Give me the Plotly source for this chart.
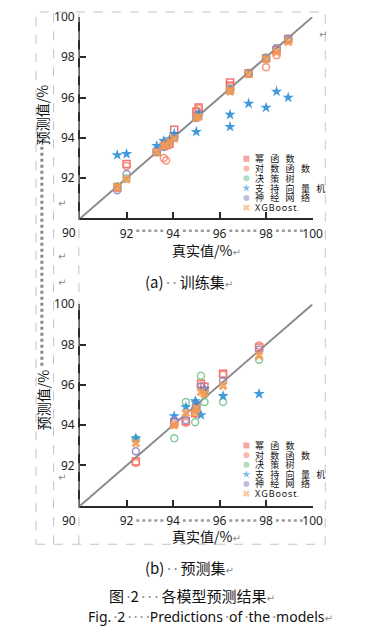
import plotly.graph_objects as go

W, H = 382, 630

# ---------------- data ----------------
MODELS = ["幂函数", "对数函数", "决策树", "支持向量机", "神经网络", "XGBoost"]
COLORS = ["#f0595c", "#f5836a", "#6fc48b", "#1f88d6", "#8e86c8", "#f59a4e"]
SYMBOLS = ["square-open", "circle-open", "circle-open", "star", "circle-open", "x"]
SIZES = [7, 7, 7, 8.5, 7, 8]

AXIS_RANGE = [90, 100]
TICKS = [90, 92, 94, 96, 98, 100]

# training set
TRAIN_TRUE = [91.6, 92.0, 93.3, 93.6, 93.7, 93.85, 94.05, 95.0, 95.1, 96.45, 96.45, 97.25, 98.0, 98.45, 98.95]
TRAIN_POWER = [91.55, 92.7, 93.3, 93.6, 93.65, 93.72, 94.4, 95.3, 95.5, 96.75, 96.6, 97.2, 97.95, 98.35, 98.9]
TRAIN_LOG = [91.5, 92.6, 93.35, 93.0, 92.88, 93.65, 94.05, 95.35, 95.45, 96.55, 96.4, 97.2, 97.5, 98.1, 98.85]
TRAIN_TREE = [91.6, 91.98, 93.3, 93.62, 93.7, 93.85, 94.05, 95.0, 95.1, 96.45, 96.42, 97.22, 97.98, 98.45, 98.92]
TRAIN_SVM = [93.15, 93.2, 93.6, 93.85, 93.75, 93.92, 94.2, 94.3, 95.2, 95.15, 94.55, 95.7, 95.5, 96.3, 96.0]
TRAIN_NN = [91.4, 92.2, 93.3, 93.55, 93.7, 93.85, 94.0, 95.0, 95.2, 96.4, 96.35, 97.2, 97.95, 98.45, 98.9]
TRAIN_XGB = [91.55, 91.95, 93.3, 93.6, 93.65, 93.8, 93.97, 95.0, 95.05, 96.35, 96.3, 97.15, 97.9, 98.25, 98.75]

# test set
TEST_TRUE = [92.4, 94.05, 94.55, 94.95, 95.0, 95.2, 95.35, 96.15, 97.7]
TEST_POWER = [92.2, 94.15, 94.2, 94.6, 94.85, 96.05, 95.9, 96.55, 97.85]
TEST_LOG = [92.12, 94.05, 94.12, 94.55, 94.9, 95.95, 95.75, 96.5, 97.95]
TEST_TREE = [93.3, 93.35, 95.15, 94.15, 94.9, 96.45, 95.15, 95.15, 97.25]
TEST_SVM = [93.35, 94.45, 94.9, 95.2, 95.1, 94.5, 95.8, 95.45, 95.55]
TEST_NN = [92.7, 94.25, 94.25, 94.8, 95.0, 95.9, 95.7, 96.2, 97.75]
TEST_XGB = [93.1, 94.0, 94.6, 94.6, 94.85, 95.65, 95.55, 95.95, 97.45]

TRAIN_PRED = [TRAIN_POWER, TRAIN_LOG, TRAIN_TREE, TRAIN_SVM, TRAIN_NN, TRAIN_XGB]
TEST_PRED = [TEST_POWER, TEST_LOG, TEST_TREE, TEST_SVM, TEST_NN, TEST_XGB]

X_TITLE = "真实值/%"
Y_TITLE = "预测值/%"
CAP_A = ("(a)", "训练集")
CAP_B = ("(b)", "预测集")
FIG_CN = ("图", "2", "各模型预测结果")
FIG_EN = ("Fig.", "2", "Predictions", "of", "the", "models")

# ---------------- helpers ----------------
def px(x):
    return x / W

def py(y):
    return 1 - y / H

CJK = "Noto Sans CJK SC"
LAT = "Noto Sans"
GRAY = "#8a8a8a"
DOT = f'<span style="color:{GRAY};font-family:Noto Sans">\u2009·</span>'
RET = f'<span style="color:{GRAY};font-size:10px;font-family:DejaVu Sans">↵</span>'

fig = go.Figure()

panels = [
    dict(xa="x", ya="y", xd=[82.2, 321.0], yd=[8.0, 212.5], true=TRAIN_TRUE, pred=TRAIN_PRED,
         lx="x3", ly="y3", ld=[147.0, 206.5]),
    dict(xa="x2", ya="y2", xd=[82.2, 321.0], yd=[299.5, 504.0], true=TEST_TRUE, pred=TEST_PRED,
         lx="x4", ly="y4", ld=[438.0, 496.5]),
]

axis_style = dict(
    range=AXIS_RANGE, showgrid=False, zeroline=False, showline=True,
    linecolor="#2a2a2a", linewidth=2, ticks="inside", ticklen=6, tickwidth=1.5,
    tickcolor="#2a2a2a", tickfont=dict(family=LAT, size=12, color="#1e1e1e"),
    fixedrange=True,
)

layout = {}
annotations = []
shapes = []

for i, p in enumerate(panels):
    # diagonal reference line from axis range
    fig.add_trace(go.Scatter(x=AXIS_RANGE, y=AXIS_RANGE, mode="lines",
                             line=dict(color="#8c8c8c", width=2),
                             xaxis=p["xa"], yaxis=p["ya"], showlegend=False, hoverinfo="skip"))
    for m, name in enumerate(MODELS):
        fig.add_trace(go.Scatter(
            x=p["true"], y=p["pred"][m], mode="markers", name=name,
            marker=dict(symbol=SYMBOLS[m], color=COLORS[m], size=SIZES[m], opacity=0.85,
                        line=dict(width=1.5, color=COLORS[m]) if "open" in SYMBOLS[m] else dict(width=0)),
            xaxis=p["xa"], yaxis=p["ya"], showlegend=False))

    xk = "xaxis" if p["xa"] == "x" else "xaxis" + p["xa"][1:]
    yk = "yaxis" if p["ya"] == "y" else "yaxis" + p["ya"][1:]
    layout[xk] = dict(axis_style, domain=[px(p["xd"][0]), px(p["xd"][1])], anchor=p["ya"],
                      tickvals=TICKS[1:], ticktext=[str(t) for t in TICKS[1:]], ticklabelstandoff=3)
    layout[yk] = dict(axis_style, domain=[py(p["yd"][1]), py(p["yd"][0])], anchor=p["xa"],
                      tickvals=TICKS[1:], ticktext=[str(t) for t in TICKS[1:]], ticklabelstandoff=1)

    # shared corner "90" label
    annotations.append(dict(x=TICKS[0], y=TICKS[0], xref=p["xa"], yref=p["ya"], text=str(TICKS[0]),
                            showarrow=False, xshift=-11, yshift=-14 if i == 0 else -15,
                            font=dict(family=LAT, size=12, color="#1e1e1e")))

    # Word-style dotted leaders between x tick labels
    yl = 225 if i == 0 else 519
    for a, b in zip(TICKS[1:-1], TICKS[2:]):
        shapes.append(dict(type="line", xref=p["xa"], yref="paper", x0=a + 0.42, x1=b - 0.33,
                           y0=py(yl), y1=py(yl), line=dict(color="#9a9a9a", width=2.5, dash="dot")))

    # ---- manual compact legend (helper axes) ----
    lxk = "xaxis" + p["lx"][1:]
    lyk = "yaxis" + p["ly"][1:]
    layout[lxk] = dict(domain=[px(248), px(345)], range=[0, 97], visible=False, fixedrange=True,
                       anchor=p["ly"])
    layout[lyk] = dict(domain=[py(p["ld"][1]), py(p["ld"][0])], range=[len(MODELS) - 0.5, -0.5],
                       visible=False, fixedrange=True, anchor=p["lx"])
    fig.add_trace(go.Scatter(
        x=[5] * len(MODELS), y=list(range(len(MODELS))), mode="markers",
        marker=dict(symbol=[s.replace("-open", "") for s in SYMBOLS],
                    color=COLORS, size=6, opacity=0.55, line=dict(width=0)),
        xaxis=p["lx"], yaxis=p["ly"], showlegend=False, hoverinfo="skip"))
    for m, name in enumerate(MODELS):
        if name.isascii():
            txt = "\u200a".join(list(name)) + f'<span style="color:{GRAY}">.</span>'
            fnt = dict(family=LAT, size=9, color="#111")
        else:
            txt = "\u2002\u2009".join(list(name))
            fnt = dict(family=CJK, size=9, color="#111")
        annotations.append(dict(x=13, y=m, xref=p["lx"], yref=p["ly"], text=txt, showarrow=False,
                                xanchor="left", yanchor="middle", font=fnt, borderpad=0))

    # axis titles
    ty = 244 if i == 0 else 535
    annotations.append(dict(x=px(175), y=py(ty), xref="paper", yref="paper", xanchor="left",
                            yanchor="middle", text=X_TITLE + RET, showarrow=False,
                            font=dict(family=CJK, size=14, color="#111")))
    yc = 108 if i == 0 else 397
    annotations.append(dict(x=px(44), y=py(yc), xref="paper", yref="paper", xanchor="center",
                            yanchor="middle", text=Y_TITLE, textangle=-90, showarrow=False,
                            font=dict(family=CJK, size=14, color="#111")))

# captions
cap_font = dict(family=CJK, size=15, color="#111")
annotations.append(dict(x=px(147), y=py(276), xref="paper", yref="paper", xanchor="left", yanchor="middle",
                        text=CAP_A[0] + DOT * 2 + "\u2009" + CAP_A[1] + RET, showarrow=False, font=cap_font))
annotations.append(dict(x=px(147), y=py(567), xref="paper", yref="paper", xanchor="left", yanchor="middle",
                        text=CAP_B[0] + DOT * 2 + "\u2009" + CAP_B[1] + RET, showarrow=False, font=cap_font))
annotations.append(dict(x=px(110), y=py(595), xref="paper", yref="paper", xanchor="left", yanchor="middle",
                        text=FIG_CN[0] + DOT + FIG_CN[1] + DOT * 3 + "\u2009" + FIG_CN[2] + RET,
                        showarrow=False, font=cap_font))
annotations.append(dict(x=px(88), y=py(616), xref="paper", yref="paper", xanchor="left", yanchor="middle",
                        text=FIG_EN[0] + DOT + FIG_EN[1] + DOT * 4 + DOT.join(FIG_EN[2:]) + RET,
                        showarrow=False, font=dict(family=LAT, size=14, color="#111")))

# stray paragraph marks of the document
for (xx, yy) in [(58, 251), (58, 277), (58, 190), (338, 18), (58, 483)]:
    annotations.append(dict(x=px(xx), y=py(yy), xref="paper", yref="paper", text="↵", showarrow=False,
                            font=dict(family="DejaVu Sans", size=10, color=GRAY)))

# dashed frame lines of the document table
frame = dict(color="#c4c4c4", width=1, dash="dash")
shapes.append(dict(type="rect", xref="paper", yref="paper", x0=px(37), x1=px(334), y0=py(543), y1=py(3),
                   line=frame))
for xv in (55, 81):
    shapes.append(dict(type="line", xref="paper", yref="paper", x0=px(xv), x1=px(xv), y0=py(543), y1=py(3),
                       line=frame))
# vertical dotted formatting mark between the y titles
shapes.append(dict(type="line", xref="paper", yref="paper", x0=px(43), x1=px(43), y0=py(362), y1=py(138),
                   line=dict(color="#8a8a8a", width=3, dash="dot")))

fig.update_layout(
    width=W, height=H, autosize=False,
    margin=dict(l=0, r=0, t=0, b=0),
    paper_bgcolor="white", plot_bgcolor="rgba(0,0,0,0)",
    showlegend=False,
    annotations=annotations, shapes=shapes,
    **layout,
)

fig.write_html("out.html", config={"displayModeBar": False},
               post_script="document.body.style.margin='0';document.body.style.padding='0';document.body.style.overflow='hidden';")
